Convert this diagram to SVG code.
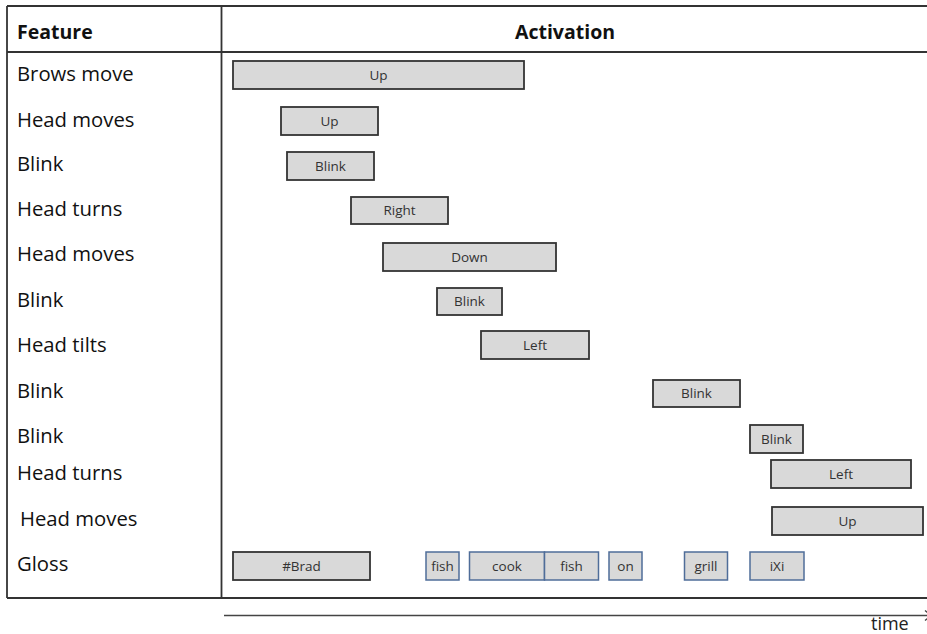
<svg xmlns="http://www.w3.org/2000/svg" width="927" height="634" viewBox="0 0 927 634">
<style>
.feat{font-family:"Open Sans","DejaVu Sans",sans-serif;font-size:20.3px;fill:#111}
.hdr{font-family:"Open Sans","DejaVu Sans",sans-serif;font-size:19.5px;font-weight:bold;fill:#111}
.bar{fill:#d9d9d9;stroke:#333;stroke-width:1.8}
.gl{fill:#d9d9d9;stroke:#4f6d99;stroke-width:1.5}
.lbl{font-family:"Open Sans","DejaVu Sans",sans-serif;font-size:13.5px;fill:#333;text-anchor:middle}
.grid{stroke:#333;stroke-width:1.8;fill:none}
</style>
<defs>
<marker id="arr" markerWidth="10" markerHeight="12" refX="7" refY="6" orient="auto" markerUnits="userSpaceOnUse">
<polyline points="1,1 7,6 1,11" fill="none" stroke="#444" stroke-width="1.3"/>
</marker>
</defs>
<g id="table">
<line class="grid" x1="7" y1="6" x2="927" y2="6"/>
<line class="grid" x1="7" y1="52" x2="927" y2="52"/>
<line class="grid" x1="7" y1="598" x2="927" y2="598"/>
<line class="grid" x1="7" y1="6" x2="7" y2="598"/>
<line class="grid" x1="221.5" y1="6" x2="221.5" y2="598"/>
<text class="hdr" x="17" y="39">Feature</text>
<text class="hdr" x="565" y="39" text-anchor="middle">Activation</text>
</g>
<g id="features">
<text class="feat" x="17" y="81">Brows move</text>
<text class="feat" x="17" y="127">Head moves</text>
<text class="feat" x="17" y="171">Blink</text>
<text class="feat" x="17" y="216">Head turns</text>
<text class="feat" x="17" y="261">Head moves</text>
<text class="feat" x="17" y="307">Blink</text>
<text class="feat" x="17" y="352">Head tilts</text>
<text class="feat" x="17" y="398">Blink</text>
<text class="feat" x="17" y="443">Blink</text>
<text class="feat" x="17" y="480">Head turns</text>
<text class="feat" x="20" y="526">Head moves</text>
<text class="feat" x="17" y="571">Gloss</text>
</g>
<g id="bar-brows-up"><rect class="bar" x="233" y="61" width="291" height="28"/><text class="lbl" x="378.5" y="80">Up</text></g>
<g id="bar-head-up"><rect class="bar" x="281" y="107" width="97" height="28"/><text class="lbl" x="329.5" y="126">Up</text></g>
<g id="bar-blink1"><rect class="bar" x="287" y="152" width="87" height="28"/><text class="lbl" x="330.5" y="171">Blink</text></g>
<g id="bar-head-right"><rect class="bar" x="351" y="197" width="97" height="27"/><text class="lbl" x="399.5" y="215">Right</text></g>
<g id="bar-head-down"><rect class="bar" x="383" y="243" width="173" height="28"/><text class="lbl" x="469.5" y="262">Down</text></g>
<g id="bar-blink2"><rect class="bar" x="437" y="288" width="65" height="27"/><text class="lbl" x="469.5" y="306">Blink</text></g>
<g id="bar-tilt-left"><rect class="bar" x="481" y="331" width="108" height="28"/><text class="lbl" x="535" y="350">Left</text></g>
<g id="bar-blink3"><rect class="bar" x="653" y="380" width="87" height="27"/><text class="lbl" x="696.5" y="398">Blink</text></g>
<g id="bar-blink4"><rect class="bar" x="750" y="425" width="53" height="28"/><text class="lbl" x="776.5" y="444">Blink</text></g>
<g id="bar-turn-left"><rect class="bar" x="771" y="460" width="140" height="28"/><text class="lbl" x="841" y="479">Left</text></g>
<g id="bar-head-up2"><rect class="bar" x="772" y="507" width="151" height="28"/><text class="lbl" x="847.5" y="526">Up</text></g>
<g id="gloss-brad"><rect class="bar" x="233" y="552" width="137" height="28"/><text class="lbl" x="301.5" y="571">#Brad</text></g>
<g id="gloss-fish1"><rect class="gl" x="426" y="552" width="33" height="28"/><text class="lbl" x="442.5" y="571">fish</text></g>
<g id="gloss-cook"><rect class="gl" x="469.5" y="552" width="75" height="28"/><text class="lbl" x="507" y="571">cook</text></g>
<g id="gloss-fish2"><rect class="gl" x="544.5" y="552" width="54" height="28"/><text class="lbl" x="571.5" y="571">fish</text></g>
<g id="gloss-on"><rect class="gl" x="609" y="552" width="33" height="28"/><text class="lbl" x="625.5" y="571">on</text></g>
<g id="gloss-grill"><rect class="gl" x="684.5" y="552" width="43" height="28"/><text class="lbl" x="706" y="571">grill</text></g>
<g id="gloss-ixi"><rect class="gl" x="750" y="552" width="54" height="28"/><text class="lbl" x="777" y="571">iXi</text></g>
<g id="connectors">
<line x1="224" y1="615.5" x2="931" y2="615.5" stroke="#444" stroke-width="1.6" marker-end="url(#arr)"/>
</g>
<g id="time-label"><text x="871" y="630" font-family="Open Sans, DejaVu Sans, sans-serif" font-size="18" fill="#222">time</text></g>
</svg>
